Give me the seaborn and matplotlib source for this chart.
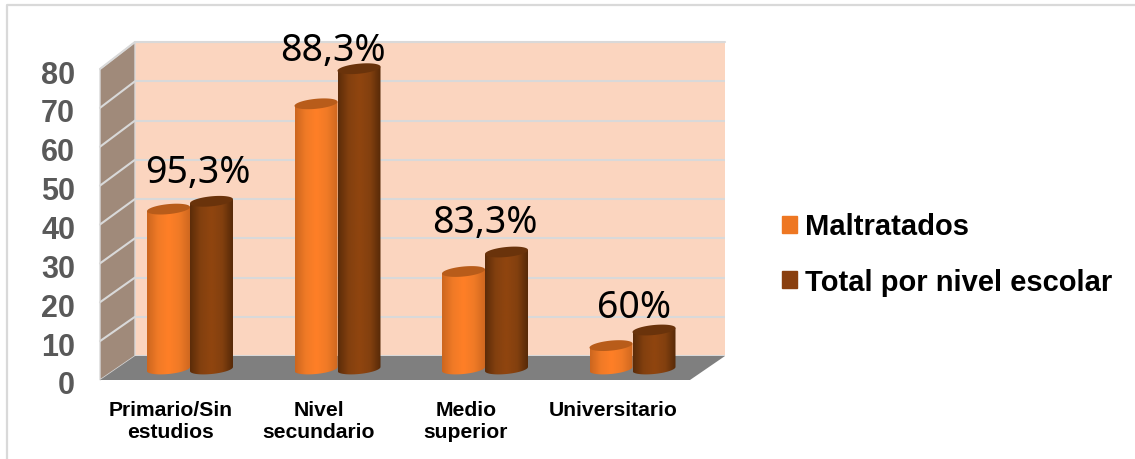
import matplotlib
matplotlib.use("Agg")
import matplotlib.pyplot as plt
import numpy as np
import pandas as pd
import seaborn as sns
from matplotlib.colors import LinearSegmentedColormap
from matplotlib.lines import Line2D
from matplotlib.patches import Patch, PathPatch, Polygon
from matplotlib.path import Path
from matplotlib.transforms import Affine2D, ScaledTranslation

categories = ["Primario/Sin\nestudios", "Nivel\nsecundario", "Medio\nsuperior", "Universitario"]
maltratados = [41, 68, 25, 6]
total_nivel = [43, 77, 30, 10]
porcentajes = ["95,3%", "88,3%", "83,3%", "60%"]
ticks = [0, 10, 20, 30, 40, 50, 60, 70, 80]

W, H = 1135, 460
colors = {"Maltratados": "#ee7722", "Total por nivel escolar": "#8a3f0e"}
ramps = {
    "Maltratados": ["#cc661f", "#f07a26", "#ff7f27", "#f07a26", "#cf6820"],
    "Total por nivel escolar": ["#5c2c09", "#83400f", "#90450f", "#83400f", "#572a08"],
}
caps = {"Maltratados": "#b85c1a", "Total por nivel escolar": "#6a330b"}

sns.set_theme(style="white")
plt.rcParams["font.family"] = ["Liberation Sans", "DejaVu Sans"]

fig = plt.figure(figsize=(W / 100, H / 100), dpi=100)
px = Affine2D().scale(1, -1).translate(0, H)


def axes_px(left, top, right, bottom, **kw):
    return fig.add_axes([left / W, 1 - bottom / H, (right - left) / W, (bottom - top) / H], **kw)


# chart frame
fig.add_artist(Line2D([7, 7, W], [H, 6, 6], transform=px, color="#d9d9d9", lw=1.6))

# back wall with the gridlines
wall = axes_px(135, 43, 725, 357, facecolor="#fbd5bf")
wall.set_ylim(0, 80)
wall.set_xticks([])
wall.set_yticks(ticks)
wall.tick_params(left=False, labelleft=False)
wall.grid(axis="y", color="#d9d9d9", lw=1.5)
wall.set_axisbelow(True)
sns.despine(ax=wall, left=True, bottom=True, right=True, top=True)
wall.set_zorder(0)

# side wall, floor
fig.add_artist(Polygon([(100, 70), (135, 43), (135, 357), (100, 381)], transform=px,
                       fc="#a08a7a", ec="#d9d9d9", lw=1, zorder=0.5))
fig.add_artist(Polygon([(100, 381), (135, 357), (725, 357), (690, 381)], transform=px,
                       fc="#7f7f7f", ec="none", zorder=0.6))
for v in ticks[1:-1]:
    fig.add_artist(Line2D([100, 135], [381 - v * 3.8875, 357 - v * 3.925], transform=px,
                          color="#d9d9d9", lw=1.5, zorder=0.55))
fig.add_artist(Line2D([135, 725], [43, 43], transform=px, color="#d9d9d9", lw=1.5, zorder=0.55))
fig.add_artist(Line2D([100, 135], [70, 43], transform=px, color="#d9d9d9", lw=1.5, zorder=0.55))

# front axis only carries the value labels
front = axes_px(100, 70, 110, 381)
front.patch.set_alpha(0)
front.set_ylim(0, 80)
front.set_xticks([])
front.set_yticks(ticks)
front.tick_params(axis="y", left=False, pad=12)
down = ScaledTranslation(0, -2 / 100, fig.dpi_scale_trans)
for lab in front.get_yticklabels():
    lab.set(fontsize=22, fontweight="bold", color="#595959")
    lab.set_transform(lab.get_transform() + down)
sns.despine(ax=front, left=True, bottom=True, right=True, top=True)
front.set_zorder(1)

# cylinders: value 0 sits at y=370, 3.9 px per unit
df = pd.DataFrame({
    "nivel": categories * 2,
    "serie": ["Maltratados"] * 4 + ["Total por nivel escolar"] * 4,
    "valor": maltratados + total_nivel,
})
ax = axes_px(100, 0, 725, 370)
ax.patch.set_alpha(0)
sns.barplot(data=df, x="nivel", y="valor", hue="serie", palette=colors, width=0.583,
            legend=False, ax=ax)

step = 147.5
b = 5 / 3.9
tilt = 3.6
t = np.linspace(0, np.pi, 40)
z = 3
for cont, name in zip(ax.containers, colors):
    cmap = LinearSegmentedColormap.from_list(name, ramps[name])
    for bar in cont:
        bar.set_visible(False)
        x0, w, h = bar.get_x(), bar.get_width(), bar.get_height()
        xc = x0 + w / 2
        xs = xc - w / 2 * np.cos(t)
        low = -b * np.sin(t) + tilt * (xs - xc)
        verts = list(zip(xs, low)) + [(x0 + w, h + tilt * w / 2), (x0, h - tilt * w / 2), (xs[0], low[0])]
        im = ax.imshow(np.linspace(0, 1, 128)[None, :], cmap=cmap, aspect="auto",
                       extent=(x0, x0 + w, -5, h + 5), zorder=z)
        im.set_clip_box(fig.bbox)
        im.set_clip_path(PathPatch(Path(verts), transform=ax.transData))
        xt = xc - w / 2 * np.cos(np.linspace(0, 2 * np.pi, 80))
        yt = h + b * np.sin(np.linspace(0, 2 * np.pi, 80)) + tilt * (xt - xc)
        ax.fill(xt, yt, color=caps[name], lw=0, zorder=z + 0.5, clip_on=False)
        z += 1

ax.set_xlim(-(190 - 100) / step, (725 - 190) / step)
ax.set_ylim(0, 370 / 3.9)
ax.set_yticks([])
ax.set_xlabel("")
ax.set_ylabel("")
ax.tick_params(axis="x", bottom=False, pad=16.4)
shift = ScaledTranslation(-19 / 100, 0, fig.dpi_scale_trans)
for lab in ax.get_xticklabels():
    lab.set(fontsize=15.2, fontweight="bold", color="black", linespacing=1.2)
    lab.set_transform(lab.get_transform() + shift)
sns.despine(ax=ax, left=True, bottom=True, right=True, top=True)
ax.set_zorder(2)

# percentage labels above each pair
label_offsets = [(8, 14), (-5, 4), (0, 15), (2, 8)]
for i, (txt, off) in enumerate(zip(porcentajes, label_offsets)):
    ax.annotate(txt, (i, total_nivel[i]), xytext=(off[0] * 0.72, (off[1] + 5) * 0.72),
                textcoords="offset points", ha="center", va="baseline", fontsize=27,
                family=["Noto Sans", "DejaVu Sans"], color="black", annotation_clip=False, zorder=50)

handles = [Patch(color=c, label=n) for n, c in colors.items()]
leg = fig.legend(handles=handles, loc="center left", bbox_to_anchor=(756 / W, 1 - 255 / H),
                 frameon=False, prop={"size": 21, "weight": "bold"}, handlelength=0.52,
                 handleheight=0.52, handletextpad=0.25, labelspacing=0.93, labelcolor="black")

fig.savefig("out.png", dpi=100)
